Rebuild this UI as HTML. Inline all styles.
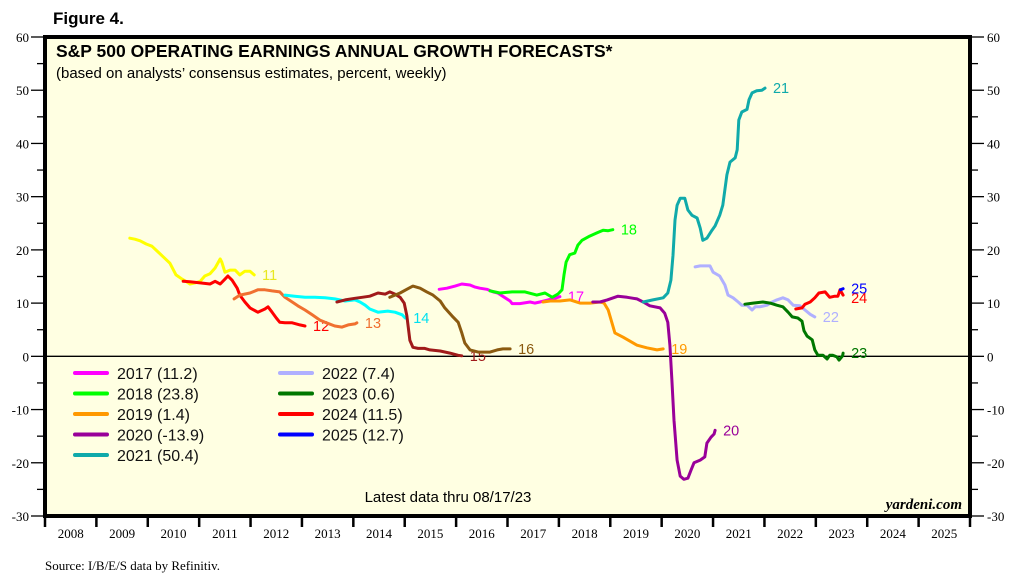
<!DOCTYPE html>
<html><head><meta charset="utf-8"><style>
body{margin:0;background:#fff;}
svg{display:block;}
text{font-family:"Liberation Sans",Arial,sans-serif;}
.ser{font-family:"Liberation Serif","Times New Roman",serif;}
</style></head><body>
<svg id="chart" width="1028" height="588" xmlns="http://www.w3.org/2000/svg">
<text x="53" y="24" font-size="17" font-weight="bold" fill="#000">Figure 4.</text>
<rect x="45" y="37" width="925" height="479" fill="#ffffe2"/>
<text x="56" y="57" font-size="17.5" font-weight="bold" fill="#000">S&amp;P 500 OPERATING EARNINGS ANNUAL GROWTH FORECASTS*</text>
<text x="56" y="78" font-size="15" fill="#000">(based on analysts’ consensus estimates, percent, weekly)</text>
<g id="axes"></g>
<g id="series"></g>
<g id="legend"></g>
<rect x="45" y="37" width="925" height="479" fill="none" stroke="#000" stroke-width="4"/>
<text x="448" y="502" font-size="15" text-anchor="middle" fill="#000">Latest data thru 08/17/23</text>
<text x="962" y="509" font-size="15" font-weight="bold" font-style="italic" text-anchor="end" class="ser" fill="#000">yardeni.com</text>
<text x="45" y="570" font-size="13" class="ser" fill="#000">Source: I/B/E/S data by Refinitiv.</text>
</svg>
<script>
const yTicks=[60,50,40,30,20,10,0,-10,-20,-30];
const yearLabels=['2008','2009','2010','2011','2012','2013','2014','2015','2016','2017','2018','2019','2020','2021','2022','2023','2024','2025'];
const seriesNames=['2011','2012','2013','2014','2015','2016','2017','2018','2019','2020','2021','2022','2023','2024','2025'];
const seriesColors=['#ffff00','#ff0000','#f07030','#00ffff','#a01a1a','#8b5a10','#ff00ff','#00ff00','#ff9900','#990099','#10aaaa','#b0b0ff','#007700','#ff0000','#0000ff'];
const labelColors=['#e8e820','#ff0000','#f07030','#00e0f0','#a01a1a','#8b5a10','#ff00ff','#00ff00','#ff9900','#990099','#10aaaa','#b0b0ff','#007700','#ff0000','#0000ff'];
const x2011=[2009.65,2009.75,2009.85,2009.97,2010.08,2010.20,2010.30,2010.43,2010.55,2010.67,2010.74,2010.82,2010.92,2011.02,2011.11,2011.21,2011.31,2011.41,2011.44,2011.50,2011.60,2011.70,2011.79,2011.89,2011.99,2012.07];
const v2011=[22.2,22.0,21.7,21.1,20.7,19.6,18.7,17.5,15.3,14.5,14.1,13.6,13.8,14.1,15.1,15.5,16.6,18.3,17.7,15.8,16.2,16.2,15.3,16.0,16.0,15.3];
const x2012=[2010.69,2010.82,2011.02,2011.21,2011.31,2011.41,2011.50,2011.56,2011.64,2011.74,2011.79,2011.89,2011.99,2012.14,2012.28,2012.34,2012.42,2012.50,2012.57,2012.67,2012.81,2012.96,2013.06];
const v2012=[14.1,14.0,13.8,13.6,14.1,13.6,14.5,15.1,14.3,12.8,11.5,10.2,9.1,8.3,8.9,9.3,8.3,7.2,6.4,6.3,6.3,5.9,5.7];
const x2013=[2011.68,2011.79,2011.99,2012.14,2012.28,2012.42,2012.57,2012.67,2012.81,2012.92,2013.06,2013.20,2013.35,2013.45,2013.64,2013.78,2013.90,2014.03,2014.07];
const v2013=[10.8,11.5,11.9,12.5,12.5,12.3,12.1,11.1,10.2,9.5,8.7,7.8,6.8,6.4,5.7,5.5,5.9,6.1,6.3];
const x2014=[2012.67,2012.86,2013.06,2013.25,2013.45,2013.64,2013.84,2014.03,2014.13,2014.23,2014.32,2014.48,2014.67,2014.81,2014.95,2015.01];
const v2014=[11.5,11.3,11.1,11.1,11.0,10.8,10.4,10.6,10.2,9.6,8.9,8.3,8.5,8.3,7.8,7.2];
const x2015=[2013.68,2013.84,2014.03,2014.17,2014.32,2014.48,2014.62,2014.71,2014.81,2014.91,2014.99,2015.04,2015.10,2015.16,2015.26,2015.39,2015.49,2015.69,2015.88,2016.04,2016.11];
const v2015=[10.2,10.6,10.9,11.1,11.3,11.9,11.7,12.1,11.7,11.1,10.0,7.7,3.0,1.7,1.5,1.5,1.2,1.0,0.6,0.2,0.1];
const x2016=[2014.71,2014.91,2015.04,2015.16,2015.30,2015.43,2015.55,2015.69,2015.78,2015.92,2016.04,2016.11,2016.17,2016.27,2016.43,2016.56,2016.66,2016.80,2016.91,2017.05];
const v2016=[11.1,11.9,12.6,13.2,12.8,12.1,11.5,10.4,9.1,7.6,6.4,4.4,2.5,1.2,0.8,0.8,0.8,1.2,1.4,1.4];
const x2017=[2015.67,2015.82,2015.98,2016.11,2016.27,2016.37,2016.46,2016.60,2016.72,2016.81,2017.05,2017.09,2017.24,2017.44,2017.53,2017.63,2017.79,2017.88,2018.02];
const v2017=[12.6,12.8,13.2,13.6,13.4,13.0,12.8,12.6,12.1,11.9,10.4,9.9,9.9,10.2,10.0,10.2,10.6,10.8,11.2];
const x2018=[2016.66,2016.85,2017.09,2017.34,2017.57,2017.73,2017.87,2017.98,2018.06,2018.10,2018.14,2018.21,2018.31,2018.37,2018.45,2018.60,2018.74,2018.86,2018.96,2019.05];
const v2018=[12.3,11.9,12.1,12.1,11.5,11.9,11.1,11.7,12.5,15.3,17.7,19.1,19.4,20.9,21.8,22.6,23.2,23.7,23.6,23.8];
const x2019=[2017.69,2017.83,2018.02,2018.22,2018.41,2018.61,2018.80,2018.88,2018.96,2019.09,2019.25,2019.52,2019.71,2019.91,2020.03];
const v2019=[10.2,10.4,10.4,10.6,10.0,10.0,10.2,10.0,8.7,4.4,3.6,2.1,1.6,1.2,1.4];
const x2020=[2018.66,2018.80,2018.94,2019.15,2019.33,2019.52,2019.64,2019.77,2019.97,2020.06,2020.12,2020.16,2020.20,2020.24,2020.30,2020.36,2020.43,2020.51,2020.57,2020.63,2020.75,2020.84,2020.88,2020.96,2021.02,2021.04];
const v2020=[10.2,10.2,10.6,11.3,11.1,10.8,10.2,9.5,9.1,8.1,6.4,2.1,-4.5,-12.0,-19.5,-22.5,-23.1,-22.9,-21.4,-20.0,-19.5,-18.9,-16.3,-15.2,-14.6,-13.9];
const x2021=[2019.64,2019.83,2020.03,2020.12,2020.18,2020.22,2020.26,2020.30,2020.36,2020.45,2020.51,2020.59,2020.69,2020.75,2020.80,2020.88,2020.98,2021.04,2021.13,2021.19,2021.27,2021.33,2021.43,2021.47,2021.50,2021.56,2021.66,2021.70,2021.76,2021.85,2021.95,2022.01];
const v2021=[10.2,10.6,11.0,11.9,14.3,19.0,25.6,28.4,29.7,29.7,27.5,26.5,26.0,24.1,21.8,22.2,23.7,24.5,26.5,28.4,34.1,36.5,37.3,38.8,44.4,45.9,46.4,48.2,49.5,49.9,50.0,50.4];
const x2022=[2020.65,2020.75,2020.94,2021.00,2021.13,2021.23,2021.29,2021.39,2021.49,2021.56,2021.66,2021.76,2021.82,2021.91,2022.05,2022.15,2022.24,2022.36,2022.46,2022.56,2022.69,2022.79,2022.89,2022.98];
const v2022=[16.8,17.0,17.0,15.8,15.1,13.4,11.5,11.0,10.2,9.6,9.6,8.7,9.3,9.3,9.6,10.2,10.6,11.0,10.6,9.6,9.5,8.7,7.9,7.4];
const x2023=[2021.62,2021.78,2021.97,2022.11,2022.24,2022.36,2022.46,2022.54,2022.65,2022.73,2022.77,2022.83,2022.93,2022.98,2023.04,2023.14,2023.22,2023.27,2023.33,2023.41,2023.45,2023.52,2023.53];
const v2023=[9.8,10.0,10.2,10.0,9.6,9.3,8.3,7.4,7.2,6.6,4.8,3.8,3.1,1.2,0.2,0.2,-0.5,0.2,0.2,-0.1,-0.7,0.1,0.6];
const x2024=[2022.61,2022.73,2022.79,2022.89,2022.98,2023.06,2023.18,2023.27,2023.37,2023.43,2023.47,2023.53];
const v2024=[8.9,9.1,9.8,10.2,11.0,11.9,12.1,11.1,11.3,11.3,12.5,11.5];
const x2025=[2023.48,2023.53];
const v2025=[12.5,12.7];
const legendLabels=['2017 (11.2)','2018 (23.8)','2019 (1.4)','2020 (-13.9)','2021 (50.4)','2022 (7.4)','2023 (0.6)','2024 (11.5)','2025 (12.7)'];

const NS='http://www.w3.org/2000/svg';
const L=45,R=970,T=37,B=516,X0=2008,X1=2026,YMAX=60,YMIN=-30;
const xs=d=>L+(d-X0)*(R-L)/(X1-X0);
const ys=v=>T+(YMAX-v)*(B-T)/(YMAX-YMIN);
function mk(tag,attrs,parent,txt){const e=document.createElementNS(NS,tag);for(const k in attrs)e.setAttribute(k,attrs[k]);if(txt!==undefined)e.textContent=txt;parent.appendChild(e);return e;}
const axes=document.getElementById('axes');
for(let v=YMIN;v<=YMAX;v+=5){
  const y=ys(v),major=v%10===0;
  const t1=mk('line',{x1:major?31:37,x2:L,y1:y,y2:y,stroke:'#000','stroke-width':1.3},axes);
  
  
  const t2=mk('line',{x1:R,x2:major?984:978,y1:y,y2:y,stroke:'#000','stroke-width':1.3},axes);
  
  
}
yTicks.forEach(v=>{
  const y=ys(v);
  const a=mk('text',{x:29,y:y+5,'font-size':13,'text-anchor':'end',class:'ser',fill:'#000'},axes,String(v));
  
  
  const b=mk('text',{x:987,y:y+5,'font-size':13,class:'ser',fill:'#000'},axes,String(v));
  
  
});
const z=mk('line',{x1:L,x2:R,y1:ys(0),y2:ys(0),stroke:'#000','stroke-width':1.3},axes);


for(let i=0;i<=yearLabels.length;i++){
  const x=xs(X0+i);
  const d=mk('line',{x1:x,x2:x,y1:B,y2:B+11,stroke:'#000','stroke-width':2.5},axes);
  
  
}
yearLabels.forEach((lab,i)=>{
  const t=mk('text',{x:xs(X0+i+0.5),y:538,'font-size':13,'text-anchor':'middle',class:'ser',fill:'#000'},axes,lab);
  
  
});
const data={'2011':[x2011,v2011],'2012':[x2012,v2012],'2013':[x2013,v2013],'2014':[x2014,v2014],'2015':[x2015,v2015],'2016':[x2016,v2016],'2017':[x2017,v2017],'2018':[x2018,v2018],'2019':[x2019,v2019],'2020':[x2020,v2020],'2021':[x2021,v2021],'2022':[x2022,v2022],'2023':[x2023,v2023],'2024':[x2024,v2024],'2025':[x2025,v2025]};
const sg=document.getElementById('series');
const labOff={'2024':[8,3],'2025':[8,0]};
seriesNames.forEach((n,i)=>{
  const [xx,vv]=data[n];
  const pts=xx.map((d,j)=>xs(d).toFixed(1)+','+ys(vv[j]).toFixed(1)).join(' ');
  const p=mk('polyline',{points:pts,fill:'none',stroke:seriesColors[i],'stroke-width':3,'stroke-linejoin':'round','stroke-linecap':'round'},sg);
  
  
  const lx=xs(xx[xx.length-1]),ly=ys(vv[vv.length-1]);
  const o=labOff[n]||[8,0];
  const t=mk('text',{x:lx+o[0],y:ly+5+o[1],'font-size':14.5,fill:labelColors[i]},sg,n.slice(2));
  
  
});
const lg=document.getElementById('legend');
const legColors=['#ff00ff','#00ff00','#ff9900','#990099','#10aaaa','#b0b0ff','#007700','#ff0000','#0000ff'];
legendLabels.forEach((lab,i)=>{
  const col=i<5?0:1,row=i<5?i:i-5;
  const x0=col?280:75,y=373+row*20.5;
  const l=mk('line',{x1:x0,x2:x0+32,y1:y,y2:y,stroke:legColors[i],'stroke-width':4,'stroke-linecap':'round'},lg);
  
  
  const t=mk('text',{x:x0+42,y:y+6,'font-size':16,fill:'#111'},lg,lab);
  
  
});
</script>
</body></html>
